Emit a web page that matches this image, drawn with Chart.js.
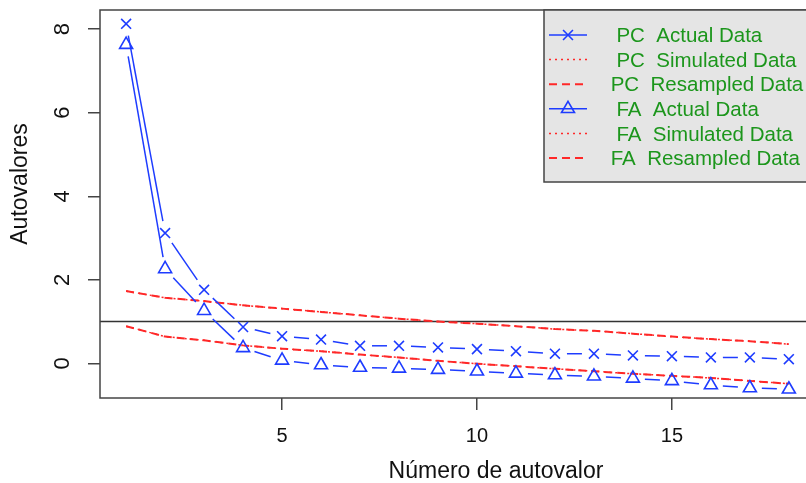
<!DOCTYPE html>
<html>
<head>
<meta charset="utf-8">
<script src="https://cdn.jsdelivr.net/npm/chart.js@4.4.0/dist/chart.umd.min.js"></script>
<style>
  html, body { margin: 0; padding: 0; background: #fff; overflow: hidden; }
</style>
</head>
<body>
<canvas id="scree" width="806" height="483"></canvas>
<script>
// eigenvalue number (x axis)
var eigenNo = [1, 2, 3, 4, 5, 6, 7, 8, 9, 10, 11, 12, 13, 14, 15, 16, 17, 18];

// values
var pcActual    = [8.13, 3.12, 1.76, 0.87, 0.65, 0.57, 0.42, 0.42, 0.38, 0.34, 0.29, 0.23, 0.23, 0.19, 0.17, 0.14, 0.14, 0.10];
var pcSimulated = [1.73, 1.57, 1.49, 1.39, 1.31, 1.23, 1.15, 1.07, 1.00, 0.95, 0.89, 0.82, 0.78, 0.71, 0.64, 0.58, 0.53, 0.46];
var pcResampled = [1.73, 1.57, 1.49, 1.39, 1.31, 1.23, 1.15, 1.07, 1.00, 0.95, 0.89, 0.82, 0.78, 0.71, 0.64, 0.58, 0.53, 0.46];
var faActual    = [7.63, 2.26, 1.26, 0.37, 0.07, -0.04, -0.10, -0.12, -0.15, -0.19, -0.24, -0.28, -0.31, -0.36, -0.42, -0.52, -0.59, -0.62];
var faSimulated = [0.89, 0.64, 0.55, 0.43, 0.35, 0.29, 0.21, 0.14, 0.06, -0.01, -0.07, -0.13, -0.19, -0.25, -0.30, -0.35, -0.42, -0.49];
var faResampled = [0.89, 0.64, 0.55, 0.43, 0.35, 0.29, 0.21, 0.14, 0.06, -0.01, -0.07, -0.13, -0.19, -0.25, -0.30, -0.35, -0.42, -0.49];

var xTicks = [5, 10, 15];
var yTicks = [0, 2, 4, 6, 8];
var xRange = [0.33, 18.44];
var yRange = [-0.83, 8.46];
var refLine = 1;

var xTitle = 'Número de autovalor';
var yTitle = 'Autovalores';

var colors = {
    blue: 'rgb(30, 60, 255)',
    red: 'rgb(255, 40, 40)',
    green: 'rgb(28, 150, 28)',
    axis: '#444',
    text: '#111',
    legendBg: '#e5e5e5'
};
var fontFamily = '"Liberation Sans", Arial, Helvetica, sans-serif';

function pts(arr) {
    return arr.map(function (v, i) { return { x: eigenNo[i], y: v }; });
}

// extra drawing: reference line, type "b" lines with gaps, box, rotated labels, legend
var screeExtras = {
    id: 'screeExtras',
    beforeDatasetsDraw: function (chart) {
        var ctx = chart.ctx, a = chart.chartArea;
        var py = chart.scales.y.getPixelForValue(refLine);
        ctx.save();
        ctx.strokeStyle = '#333';
        ctx.lineWidth = 1.5;
        ctx.beginPath();
        ctx.moveTo(a.left, py);
        ctx.lineTo(a.right + 20, py);
        ctx.stroke();
        ctx.restore();
    },
    afterDatasetsDraw: function (chart) {
        var ctx = chart.ctx, a = chart.chartArea;
        var gap = 12;

        chart.data.datasets.forEach(function (ds, i) {
            if (!ds.gapped) return;
            var p = chart.getDatasetMeta(i).data;
            ctx.save();
            ctx.strokeStyle = ds.borderColor;
            ctx.lineWidth = ds.borderWidth;
            for (var k = 0; k < p.length - 1; k++) {
                var dx = p[k + 1].x - p[k].x, dy = p[k + 1].y - p[k].y;
                var len = Math.hypot(dx, dy);
                if (len <= 2 * gap) continue;
                var ux = dx / len, uy = dy / len;
                ctx.beginPath();
                ctx.moveTo(p[k].x + ux * gap, p[k].y + uy * gap);
                ctx.lineTo(p[k + 1].x - ux * gap, p[k + 1].y - uy * gap);
                ctx.stroke();
            }
            ctx.restore();
        });

        // plot box (right side runs off the picture)
        ctx.save();
        ctx.strokeStyle = colors.axis;
        ctx.lineWidth = 1.5;
        ctx.strokeRect(a.left, a.top, a.right - a.left + 30, a.bottom - a.top);
        ctx.restore();

        // y tick labels (parallel to axis) and axis titles
        var ys = chart.scales.y;
        ctx.save();
        ctx.fillStyle = colors.text;
        ctx.font = '22px ' + fontFamily;
        ctx.textAlign = 'center';
        ctx.textBaseline = 'middle';
        yTicks.forEach(function (v) {
            ctx.save();
            ctx.translate(63, ys.getPixelForValue(v));
            ctx.rotate(-Math.PI / 2);
            ctx.fillText(String(v), 0, 0);
            ctx.restore();
        });
        ctx.font = '23px ' + fontFamily;
        ctx.textBaseline = 'alphabetic';
        ctx.save();
        ctx.translate(27, 184);
        ctx.rotate(-Math.PI / 2);
        ctx.fillText(yTitle, 0, 0);
        ctx.restore();
        ctx.fillText(xTitle, 496, 478);
        ctx.restore();

        // legend (topright, gray90 background)
        var lx = 544, ly = a.top, lw = 320, lh = 172;
        ctx.save();
        ctx.fillStyle = colors.legendBg;
        ctx.fillRect(lx, ly, lw, lh);
        ctx.strokeStyle = colors.axis;
        ctx.lineWidth = 1.5;
        ctx.strokeRect(lx, ly, lw, lh);
        chart.data.datasets.forEach(function (ds, i) {
            var ry = 35 + i * 24.6;
            ctx.save();
            ctx.strokeStyle = ds.borderColor;
            ctx.lineWidth = ds.borderWidth;
            ctx.setLineDash(ds.borderDash || []);
            ctx.beginPath();
            ctx.moveTo(549, ry);
            ctx.lineTo(587, ry);
            ctx.stroke();
            ctx.setLineDash([]);
            if (ds.pointRadius > 0) {
                ctx.fillStyle = 'rgba(0,0,0,0)';
                ctx.lineWidth = ds.pointBorderWidth;
                Chart.helpers.drawPoint(ctx, {
                    pointStyle: ds.pointStyle,
                    radius: ds.pointRadius,
                    borderWidth: ds.pointBorderWidth,
                    rotation: 0
                }, 568, ry);
            }
            ctx.restore();
            ctx.fillStyle = colors.green;
            ctx.font = '20.5px ' + fontFamily;
            ctx.textAlign = 'left';
            ctx.textBaseline = 'middle';
            ctx.fillText(ds.label, 605, ry + 1.5);
        });
        ctx.restore();
    }
};

var ctx = document.getElementById('scree').getContext('2d');
var chart = new Chart(ctx, {
    type: 'line',
    data: {
        datasets: [{
            label: '  PC  Actual Data',
            data: pts(pcActual),
            borderColor: colors.blue,
            backgroundColor: 'rgba(0,0,0,0)',
            borderWidth: 1.5,
            showLine: false,
            gapped: true,
            pointStyle: 'crossRot',
            pointRadius: 7,
            pointBorderWidth: 1.6
        }, {
            label: '  PC  Simulated Data',
            data: pts(pcSimulated),
            borderColor: colors.red,
            borderWidth: 1.5,
            borderDash: [2, 4],
            pointRadius: 0
        }, {
            label: ' PC  Resampled Data',
            data: pts(pcResampled),
            borderColor: colors.red,
            borderWidth: 2,
            borderDash: [8, 5],
            pointRadius: 0
        }, {
            label: '  FA  Actual Data',
            data: pts(faActual),
            borderColor: colors.blue,
            backgroundColor: 'rgba(0,0,0,0)',
            borderWidth: 1.5,
            showLine: false,
            gapped: true,
            pointStyle: 'triangle',
            pointRadius: 7.5,
            pointBorderWidth: 1.6
        }, {
            label: '  FA  Simulated Data',
            data: pts(faSimulated),
            borderColor: colors.red,
            borderWidth: 1.5,
            borderDash: [2, 4],
            pointRadius: 0
        }, {
            label: ' FA  Resampled Data',
            data: pts(faResampled),
            borderColor: colors.red,
            borderWidth: 2,
            borderDash: [8, 5],
            pointRadius: 0
        }]
    },
    options: {
        responsive: false,
        animation: false,
        layout: { autoPadding: false, padding: { top: 10, left: 0, right: 0, bottom: 0 } },
        plugins: {
            legend: { display: false },
            tooltip: { enabled: false }
        },
        scales: {
            x: {
                type: 'linear',
                min: xRange[0],
                max: xRange[1],
                afterBuildTicks: function (s) { s.ticks = xTicks.map(function (v) { return { value: v }; }); },
                afterFit: function (s) { s.height = 85; },
                grid: { drawOnChartArea: false, drawTicks: true, tickLength: 12, color: colors.axis, lineWidth: 1.5 },
                border: { display: false },
                ticks: { font: { size: 20, family: fontFamily }, color: colors.text, padding: 14, maxRotation: 0 }
            },
            y: {
                type: 'linear',
                min: yRange[0],
                max: yRange[1],
                afterBuildTicks: function (s) { s.ticks = yTicks.map(function (v) { return { value: v }; }); },
                afterFit: function (s) { s.width = 100; },
                grid: { drawOnChartArea: false, drawTicks: true, tickLength: 12, color: colors.axis, lineWidth: 1.5 },
                border: { display: false },
                ticks: { display: false }
            }
        }
    },
    plugins: [screeExtras]
});
</script>
</body>
</html>
